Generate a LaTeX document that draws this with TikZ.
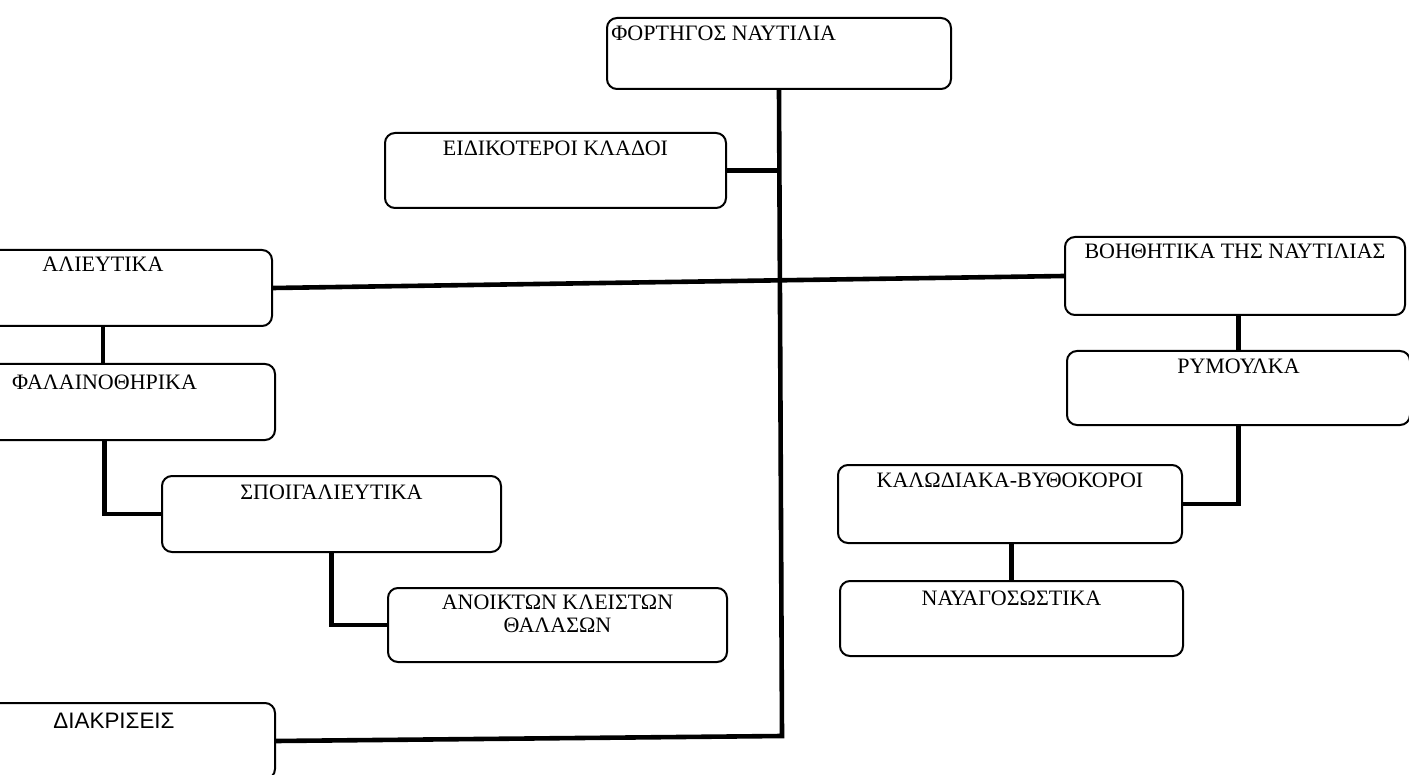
\documentclass[tikz,border=0pt]{standalone}
\usepackage{fontspec}
\setmainfont{Liberation Serif}
\newfontfamily\grsans{Liberation Sans}
\begin{document}
\begin{tikzpicture}[x=0.5pt,y=-0.5pt,
  box/.style={draw, line width=1pt, rounded corners=5pt, inner sep=0pt, fill=white},
  conn/.style={line width=2.3pt},
  lbl/.style={font=\fontsize{11}{11.5}\selectfont, inner sep=0pt, align=center},
  slbl/.style={font=\grsans\fontsize{11.2}{12}\selectfont, inner sep=0pt}]
\clip (0,0) rectangle (1409,775);
\fill[white] (0,0) rectangle (1409,775);

\coordinate (tb) at (782,736);

\node[box, minimum width=172pt, minimum height=35.5pt,
  label={[lbl, anchor=base west, xshift=2.5pt, yshift=-12pt]north west:{ΦΟΡΤΗΓΟΣ ΝΑΥΤΙΛΙΑ}}] (fort) at (779,53.5) {};
\node[box, minimum width=170.5pt, minimum height=37.5pt,
  label={[lbl, anchor=base, yshift=-12pt]north:{ΕΙΔΙΚΟΤΕΡΟΙ ΚΛΑΔΟΙ}}] (eid) at (555.5,170.5) {};
\node[box, minimum width=169pt, minimum height=38pt,
  label={[lbl, anchor=base, yshift=-11.5pt]north:{ΑΛΙΕΥΤΙΚΑ}}] (ali) at (103,288) {};
\node[box, minimum width=170.5pt, minimum height=38pt,
  label={[lbl, anchor=base, yshift=-13pt]north:{ΦΑΛΑΙΝΟΘΗΡΙΚΑ}}] (fal) at (104.5,402) {};
\node[box, minimum width=169.5pt, minimum height=38pt,
  label={[lbl, anchor=base, yshift=-12pt]north:{ΣΠΟΙΓΑΛΙΕΥΤΙΚΑ}}] (spo) at (331.5,514) {};
\node[box, minimum width=169.5pt, minimum height=37pt,
  label={[lbl, anchor=base, yshift=-22.5pt]north:{ΑΝΟΙΚΤΩΝ ΚΛΕΙΣΤΩΝ\\ΘΑΛΑΣΩΝ}}] (ano) at (557.5,625) {};
\node[box, minimum width=161pt, minimum height=38pt,
  label={[slbl, anchor=base, yshift=-13pt]north:{ΔΙΑΚΡΙΣΕΙΣ}}] (dia) at (114,741) {};
\node[box, minimum width=170pt, minimum height=39pt,
  label={[lbl, anchor=base, yshift=-11.5pt]north:{ΒΟΗΘΗΤΙΚΑ ΤΗΣ ΝΑΥΤΙΛΙΑΣ}}] (boi) at (1235,276) {};
\node[box, minimum width=171.5pt, minimum height=37pt,
  label={[lbl, anchor=base, yshift=-11.5pt]north:{ΡΥΜΟΥΛΚΑ}}] (rym) at (1238.5,388) {};
\node[box, minimum width=172pt, minimum height=39pt,
  label={[lbl, anchor=base, yshift=-11.5pt]north:{ΚΑΛΩΔΙΑΚΑ-ΒΥΘΟΚΟΡΟΙ}}] (kal) at (1010,504) {};
\node[box, minimum width=171.5pt, minimum height=37.5pt,
  label={[lbl, anchor=base, yshift=-12.5pt]north:{ΝΑΥΑΓΟΣΩΣΤΙΚΑ}}] (nav) at (1011.5,618.5) {};

\draw[conn] (fort.south) -- (tb) -- (dia.east);
\draw[conn] (eid.east) -- (eid.east -| fort.south);
\draw[conn] (ali.east) -- (boi.west);
\draw[conn] (ali.south) -- (ali.south |- fal.north);
\draw[conn] (fal.south) |- (spo.west);
\draw[conn] (spo.south) |- (ano.west);
\draw[conn] (rym.north) -- (rym.north |- boi.south);
\draw[conn] (rym.south) |- (kal.east);
\draw[conn] (nav.north) -- (nav.north |- kal.south);
\end{tikzpicture}
\end{document}
